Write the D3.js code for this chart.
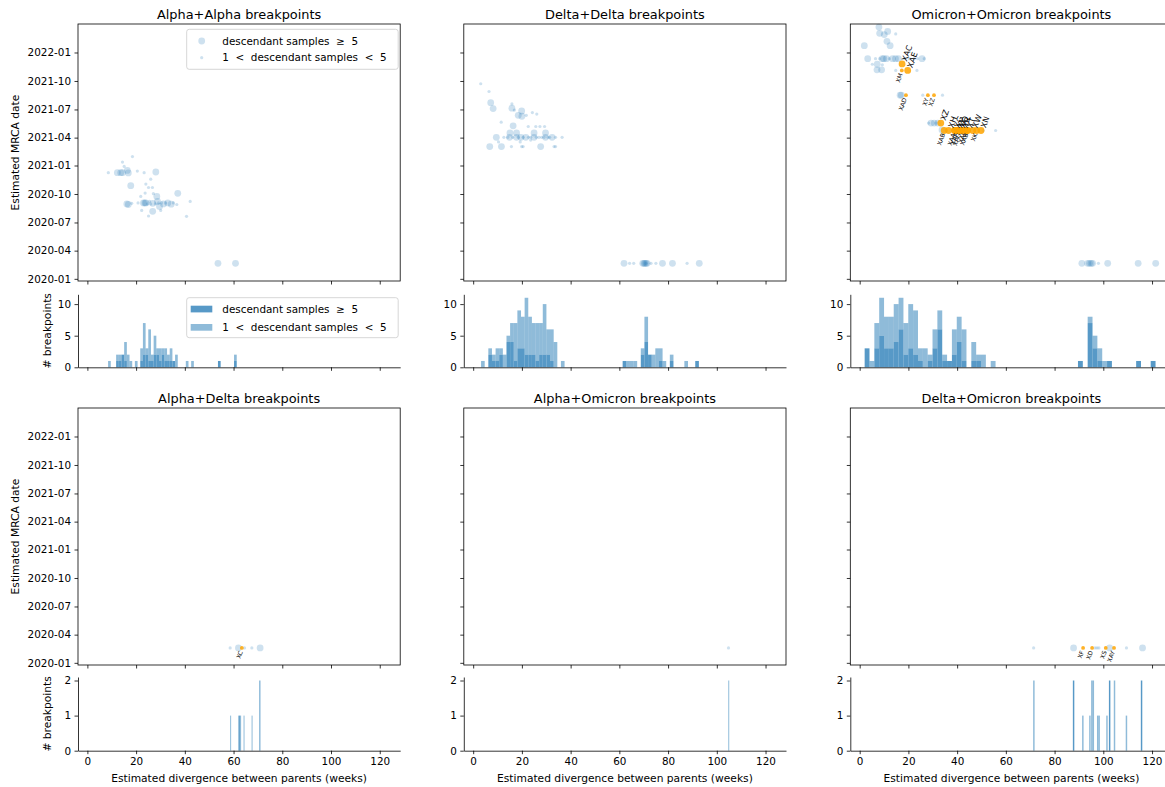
<!DOCTYPE html>
<html>
<head>
<meta charset="utf-8">
<script src="https://cdn.jsdelivr.net/npm/d3@7"></script>
<style>
  body { margin: 0; background: #fff; }
  text { font-family: 'DejaVu Sans', sans-serif; fill: #000; }
  .pre { white-space: pre; }
</style>
</head>
<body>
<svg id="chart" width="1165" height="787"></svg>
<script>
const titles = ['Alpha+Alpha breakpoints', 'Delta+Delta breakpoints', 'Omicron+Omicron breakpoints',
  'Alpha+Delta breakpoints', 'Alpha+Omicron breakpoints', 'Delta+Omicron breakpoints']
const weekTicks = [0, 20, 40, 60, 80, 100, 120]
const weekDomain = [-3.85, 128.4]
const dateTicks = ['2020-01', '2020-04', '2020-07', '2020-10', '2021-01', '2021-04', '2021-07', '2021-10', '2022-01']
const dateDomain = ['2019-12-25', '2022-04-03']
const topCountTicks = [0, 5, 10]
const topCountMax = 11.55
const bottomCountTicks = [0, 1, 2]
const bottomCountMax = 2.1
const legendLabels = ['descendant samples  \u2265  5', '1  <  descendant samples  <  5']
const yLabel = 'Estimated MRCA date'
const countLabel = '# breakpoints'
const xLabel = 'Estimated divergence between parents (weeks)'

// breakpoints: [weeks, MRCA date, 1 when descendant samples >= 5]
const alphaAlphaPoints = [
  [8.6, '2020-12-09', 0], [12.3, '2020-12-09', 1], [13.7, '2020-12-09', 1], [14.4, '2020-12-09', 1],
  [16.4, '2020-12-16', 1], [16.8, '2020-12-08', 1], [14.4, '2021-01-12', 0], [15.1, '2020-12-29', 0],
  [18.5, '2021-01-30', 0], [20.5, '2020-12-14', 0], [23.3, '2020-12-09', 0], [28.1, '2020-12-11', 1],
  [17.8, '2020-10-28', 1], [24.0, '2020-11-02', 0], [26.0, '2020-11-18', 0], [26.7, '2020-10-22', 0],
  [25.1, '2020-10-22', 0], [23.7, '2020-10-04', 0], [27.1, '2020-10-02', 0], [28.5, '2020-09-23', 1],
  [37.1, '2020-10-03', 1], [16.8, '2020-08-28', 1], [16.2, '2020-08-30', 1], [18.2, '2020-09-01', 0],
  [21.9, '2020-09-23', 0], [23.0, '2020-09-02', 1], [24.0, '2020-09-02', 1], [24.7, '2020-08-30', 0],
  [26.0, '2020-08-30', 0], [26.8, '2020-09-01', 1], [27.9, '2020-08-30', 0], [28.8, '2020-09-07', 1],
  [29.6, '2020-08-22', 1], [30.5, '2020-09-02', 0], [31.2, '2020-08-30', 1], [32.2, '2020-09-02', 0],
  [33.0, '2020-09-02', 1], [34.4, '2020-08-29', 1], [35.3, '2020-09-02', 0], [36.7, '2020-08-28', 0],
  [26.8, '2020-08-06', 1], [22.3, '2020-08-09', 0], [25.1, '2020-07-22', 0], [30.1, '2020-08-09', 0],
  [42.2, '2020-09-07', 0], [40.7, '2020-07-21', 0], [53.6, '2020-02-20', 1], [60.8, '2020-02-20', 1],
  [20.8, '2020-09-02', 0], [25.5, '2020-09-07', 0], [23.6, '2020-09-02', 1], [29.2, '2020-09-02', 0]
]
const deltaDeltaPoints = [
  [3.1, '2021-09-22', 0], [6.5, '2021-08-28', 0], [7.2, '2021-07-23', 1], [8.2, '2021-07-04', 1],
  [11.5, '2021-05-21', 0], [15.9, '2021-07-19', 0], [15.9, '2021-07-05', 1], [16.9, '2021-06-29', 0],
  [19.9, '2021-06-26', 1], [18.5, '2021-06-12', 1], [20.0, '2021-06-09', 1], [21.8, '2021-06-12', 0],
  [24.3, '2021-06-21', 0], [26.1, '2021-06-16', 0], [16.4, '2021-05-09', 1], [22.6, '2021-05-07', 0],
  [25.7, '2021-05-07', 0], [27.4, '2021-05-07', 0], [29.3, '2021-05-07', 0],
  [9.5, '2021-04-02', 1], [14.9, '2021-04-02', 1], [17.8, '2021-04-02', 1], [19.6, '2021-04-02', 1],
  [21.6, '2021-04-02', 1], [25.0, '2021-04-02', 1], [29.7, '2021-04-02', 1], [32.4, '2021-04-02', 1],
  [12.6, '2021-04-02', 0], [16.2, '2021-04-02', 0], [23.6, '2021-04-02', 0], [27.0, '2021-04-02', 0],
  [28.1, '2021-04-02', 0], [30.7, '2021-04-02', 0], [33.8, '2021-04-02', 0], [36.5, '2021-04-02', 0],
  [14.2, '2021-04-02', 0], [18.5, '2021-04-02', 0], [20.5, '2021-04-02', 0], [22.7, '2021-04-02', 0],
  [25.9, '2021-04-02', 0], [29.1, '2021-04-02', 0], [31.4, '2021-04-02', 0],
  [15.1, '2021-04-16', 1], [17.8, '2021-04-16', 1], [25.0, '2021-04-16', 1], [29.7, '2021-04-16', 1],
  [19.3, '2021-03-18', 0], [10.4, '2021-03-18', 0], [23.6, '2021-03-24', 0],
  [6.8, '2021-03-03', 1], [11.6, '2021-03-03', 1], [27.7, '2021-03-03', 1], [15.7, '2021-03-03', 0],
  [19.9, '2021-03-03', 0], [20.5, '2021-03-03', 0], [33.2, '2021-03-03', 0], [33.8, '2021-03-03', 0],
  [61.9, '2020-02-20', 1], [64.2, '2020-02-20', 0], [65.9, '2020-02-20', 0], [69.6, '2020-02-20', 1],
  [70.5, '2020-02-20', 1], [71.4, '2020-02-20', 1], [70.9, '2020-02-20', 0], [73.0, '2020-02-20', 0],
  [75.0, '2020-02-20', 0], [77.7, '2020-02-20', 1], [81.8, '2020-02-20', 1], [87.8, '2020-02-20', 0],
  [92.8, '2020-02-20', 1], [70.1, '2020-02-20', 1], [71.0, '2020-02-20', 1]
]
const omicronOmicronPoints = [
  [7.9, '2022-03-24', 1], [8.2, '2022-03-04', 1], [10.1, '2022-02-28', 1], [11.5, '2022-03-10', 1],
  [14.8, '2022-03-02', 0], [1.9, '2022-01-23', 1], [11.2, '2022-02-06', 1], [12.5, '2022-01-23', 1],
  [3.3, '2021-12-12', 1], [6.5, '2021-12-12', 0], [8.2, '2021-12-12', 0], [9.3, '2021-12-12', 1],
  [9.9, '2021-12-12', 1], [11.0, '2021-12-12', 1], [12.2, '2021-12-12', 0], [13.5, '2021-12-12', 1],
  [14.7, '2021-12-12', 1], [15.9, '2021-12-12', 1], [18.4, '2021-12-12', 0], [20.4, '2021-12-12', 0],
  [22.4, '2021-12-12', 0], [23.8, '2021-12-12', 0], [25.6, '2021-12-12', 1], [26.5, '2021-12-12', 0],
  [5.2, '2021-11-24', 0], [7.2, '2021-11-24', 1], [9.3, '2021-11-22', 0], [7.1, '2021-11-06', 1],
  [9.0, '2021-11-06', 1], [14.8, '2021-11-04', 0], [23.5, '2021-11-04', 0],
  [16.6, '2021-08-16', 1], [17.1, '2021-08-16', 1], [25.9, '2021-08-16', 0], [34.0, '2021-08-16', 0],
  [28.3, '2021-05-18', 0], [29.3, '2021-05-18', 1], [30.6, '2021-05-18', 1], [32.0, '2021-05-18', 1],
  [31.3, '2021-05-18', 0], [33.8, '2021-04-26', 1], [35.5, '2021-04-24', 0], [50.7, '2021-04-24', 0],
  [55.8, '2021-04-24', 0],
  [91.2, '2020-02-20', 1], [93.6, '2020-02-20', 1], [94.3, '2020-02-20', 1], [95.0, '2020-02-20', 1],
  [95.6, '2020-02-20', 1], [98.0, '2020-02-20', 0], [101.8, '2020-02-20', 1], [114.3, '2020-02-20', 1],
  [121.5, '2020-02-20', 1]
]
const alphaDeltaPoints = [
  [58.6, '2020-02-18', 0], [62.0, '2020-02-18', 1], [64.5, '2020-02-18', 0], [67.5, '2020-02-18', 0],
  [70.9, '2020-02-18', 1]
]
const alphaOmicronPoints = [[104.8, '2020-02-18', 0]]
const deltaOmicronPoints = [
  [71.4, '2020-02-18', 0], [87.8, '2020-02-18', 1], [96.6, '2020-02-18', 0], [97.4, '2020-02-18', 0],
  [98.2, '2020-02-18', 0], [102.6, '2020-02-18', 1], [109.5, '2020-02-18', 0], [116.1, '2020-02-18', 1]
]

// designated recombinants: [weeks, MRCA date, 1 when samples >= 5, lineage, label above or below]
const omicronOmicronNamed = [
  [17.4, '2021-11-25', 1, 'XAC', 'up'], [17.3, '2021-11-04', 0, 'XM', 'down'],
  [19.7, '2021-11-04', 1, 'XAE', 'up'], [19.0, '2021-08-16', 0, 'XAD', 'down'],
  [28.0, '2021-08-16', 0, 'XY', 'down'], [30.5, '2021-08-16', 0, 'XZ', 'down'],
  [33.3, '2021-05-18', 1, 'XZ', 'up'],
  [34.7, '2021-04-24', 1, 'XAB', 'down'], [36.5, '2021-04-24', 1, 'XH', 'up'],
  [39.0, '2021-04-24', 1, 'XG', 'up'], [39.0, '2021-04-24', 1, 'XAA', 'down'],
  [40.1, '2021-04-24', 1, 'XJ', 'up'], [40.1, '2021-04-24', 1, 'XAF', 'down'],
  [41.2, '2021-04-24', 1, 'XQ', 'up'], [41.2, '2021-04-24', 1, 'XAG', 'down'],
  [42.2, '2021-04-24', 1, 'XR', 'up'], [43.1, '2021-04-24', 1, 'XAJ', 'down'],
  [44.2, '2021-04-24', 1, 'XT', 'up'], [44.2, '2021-04-24', 1, 'XAB', 'down'],
  [46.4, '2021-04-24', 1, 'XW', 'up'], [48.0, '2021-04-24', 1, 'XK', 'down'],
  [49.8, '2021-04-24', 1, 'XN', 'up']
]
const alphaDeltaNamed = [[63.4, '2020-02-18', 0, 'XC', 'down']]
const deltaOmicronNamed = [
  [91.7, '2020-02-18', 0, 'XF', 'down'], [95.4, '2020-02-18', 0, 'XD', 'down'],
  [101.0, '2020-02-18', 0, 'XS', 'down'], [104.4, '2020-02-18', 0, 'XAY', 'down']
]

// histograms of the top row: [first bin edge, bin width], all breakpoints, samples >= 5
const alphaAlphaBins = [8.5, 1.1]
const alphaAlphaAll = [1, 0, 0, 2, 2, 2, 4, 2, 1, 0, 1, 0, 3, 7, 3, 6, 2, 5, 3, 3, 3, 3, 2, 3, 1, 2, 0, 0, 0, 1,
  0, 1, 0, 0, 0, 0, 0, 0, 0, 0, 0, 1, 0, 0, 0, 0, 0, 2]
const alphaAlphaLarge = [0, 0, 0, 1, 1, 2, 1, 0, 0, 0, 0, 0, 1, 2, 2, 1, 1, 2, 2, 1, 2, 1, 1, 1, 1, 0, 0, 0, 0, 0,
  0, 0, 0, 0, 0, 0, 0, 0, 0, 0, 0, 1, 0, 0, 0, 0, 0, 1]
const deltaDeltaBins = [3.24, 1.49]
const deltaDeltaAll = [1, 0, 3, 2, 3, 3, 2, 5, 7, 7, 9, 8, 11, 8, 7, 7, 7, 10, 6, 6, 4, 0, 1, 0, 0, 0, 0, 0, 0, 0,
  0, 0, 0, 0, 0, 0, 0, 0, 0, 1, 1, 1, 1, 0, 3, 8, 2, 2, 3, 3, 1, 0, 2, 0, 0, 0, 1, 0, 0, 1]
const deltaDeltaLarge = [0, 0, 2, 1, 1, 2, 0, 4, 4, 1, 3, 3, 2, 2, 2, 1, 2, 2, 2, 1, 0, 0, 0, 0, 0, 0, 0, 0, 0, 0,
  0, 0, 0, 0, 0, 0, 0, 0, 0, 1, 0, 0, 0, 0, 2, 4, 2, 0, 0, 1, 0, 0, 1, 0, 0, 0, 0, 0, 0, 1]
const omicronOmicronBins = [2.04, 1.99]
const omicronOmicronAll = [3, 1, 7, 11, 8, 8, 10, 11, 7, 10, 9, 3, 3, 2, 6, 9, 2, 1, 6, 8, 6, 0, 4, 2, 2, 0, 1, 0, 0, 0,
  0, 0, 0, 0, 0, 0, 0, 0, 0, 0, 0, 0, 0, 0, 1, 0, 8, 5, 3, 1, 1, 0, 0, 0, 0, 0, 1, 0, 0, 1]
const omicronOmicronLarge = [3, 0, 3, 5, 3, 3, 4, 6, 2, 3, 2, 1, 0, 1, 3, 6, 1, 1, 2, 4, 1, 0, 1, 1, 0, 0, 0, 0, 0, 0,
  0, 0, 0, 0, 0, 0, 0, 0, 0, 0, 0, 0, 0, 0, 1, 0, 7, 3, 1, 0, 1, 0, 0, 0, 0, 0, 1, 0, 0, 1]

// histograms of the bottom row: [bin edge, all breakpoints, samples >= 5]
const alphaDeltaBars = [[58.6, 1, 0], [61.9, 1, 0], [62.3, 1, 1], [62.7, 1, 0], [64.1, 1, 0], [67.4, 1, 0], [70.6, 2, 2]]
const alphaOmicronBars = [[104.7, 2, 0]]
const deltaOmicronBars = [[71.2, 2, 0], [87.5, 2, 2], [91.3, 1, 0], [94.2, 1, 0], [95.0, 2, 0], [95.6, 2, 0],
  [97.4, 1, 0], [98.0, 1, 0], [101.2, 1, 0], [102.3, 2, 2], [104.3, 2, 0], [109.2, 1, 0], [115.4, 2, 2]]
const bottomBinWidths = [0.4, 0.4, 0.6]

const blue = '#1f77b4'
const orange = '#ffa500'
const tickFont = 10.4
const labelFont = 10.7
const titleFont = 12.9
const colLeft = [78, 463.8, 850.3]
const colWidth = 322.2
const scatterTop = [24, 408]
const scatterBottom = [281, 665]
const histTop = [294.3, 677]
const histBottom = [367.3, 750.7]

const svg = d3.select('#chart')
const parseDay = d3.utcParse('%Y-%m-%d')
const parseMonth = d3.utcParse('%Y-%m')

const denseBars = (bins, all, large) => all.map((n, i) => [bins[0] + i * bins[1], n, large[i], bins[1]])
const sparseBars = (bars, w) => bars.map(b => [b[0], b[1], b[2], w])

const panels = [
  { points: alphaAlphaPoints, named: [], bars: denseBars(alphaAlphaBins, alphaAlphaAll, alphaAlphaLarge) },
  { points: deltaDeltaPoints, named: [], bars: denseBars(deltaDeltaBins, deltaDeltaAll, deltaDeltaLarge) },
  { points: omicronOmicronPoints, named: omicronOmicronNamed, bars: denseBars(omicronOmicronBins, omicronOmicronAll, omicronOmicronLarge) },
  { points: alphaDeltaPoints, named: alphaDeltaNamed, bars: sparseBars(alphaDeltaBars, bottomBinWidths[0]) },
  { points: alphaOmicronPoints, named: [], bars: sparseBars(alphaOmicronBars, bottomBinWidths[1]) },
  { points: deltaOmicronPoints, named: deltaOmicronNamed, bars: sparseBars(deltaOmicronBars, bottomBinWidths[2]) }
]

const styleAxis = g => {
  g.attr('font-family', null).attr('font-size', tickFont)
  g.selectAll('line').attr('stroke-width', 0.8)
  g.selectAll('path').attr('stroke-width', 0.8)
  g.selectAll('text').attr('fill', '#000')
}

const drawPanel = (p, i) => {
  const col = i % 3
  const row = Math.floor(i / 3)
  const x = d3.scaleLinear().domain(weekDomain).range([colLeft[col], colLeft[col] + colWidth])
  const y = d3.scaleUtc().domain(dateDomain.map(parseDay)).range([scatterBottom[row], scatterTop[row]])
  const counts = d3.scaleLinear().domain([0, row === 0 ? topCountMax : bottomCountMax]).range([histBottom[row], histTop[row]])

  svg.append('text')
    .attr('x', colLeft[col] + colWidth / 2).attr('y', scatterTop[row] - 5)
    .attr('text-anchor', 'middle').attr('font-size', titleFont)
    .text(titles[i])

  // scatter
  const sc = svg.append('g')
  sc.selectAll('circle.bp').data(p.points).enter().append('circle')
    .attr('class', 'bp')
    .attr('cx', d => x(d[0])).attr('cy', d => y(parseDay(d[1])))
    .attr('r', d => d[2] ? 3.4 : 1.6)
    .attr('fill', blue).attr('fill-opacity', 0.22)
  sc.selectAll('circle.named').data(p.named).enter().append('circle')
    .attr('class', 'named')
    .attr('cx', d => x(d[0])).attr('cy', d => y(parseDay(d[1])))
    .attr('r', d => d[2] ? 3.4 : 1.9)
    .attr('fill', orange).attr('fill-opacity', 0.85)
  sc.selectAll('text').data(p.named).enter().append('text')
    .attr('transform', d => {
      const up = d[4] === 'up'
      return `translate(${x(d[0]) + (up ? 2 : -1)},${y(parseDay(d[1])) + (up ? -3 : 3)}) rotate(-70)`
    })
    .attr('text-anchor', d => d[4] === 'up' ? 'start' : 'end')
    .attr('dy', '0.35em')
    .attr('font-size', d => d[4] === 'up' ? 8 : 6)
    .text(d => d[3])

  svg.append('rect')
    .attr('x', colLeft[col]).attr('y', scatterTop[row])
    .attr('width', colWidth).attr('height', scatterBottom[row] - scatterTop[row])
    .attr('fill', 'none').attr('stroke', '#000').attr('stroke-width', 0.8)

  svg.append('g').attr('transform', `translate(0,${scatterBottom[row]})`)
    .call(d3.axisBottom(x).tickValues(weekTicks).tickSize(3.5).tickSizeOuter(0).tickFormat(''))
    .call(g => g.select('.domain').remove())
    .call(styleAxis)
  svg.append('g').attr('transform', `translate(${colLeft[col]},0)`)
    .call(d3.axisLeft(y).tickValues(dateTicks.map(parseMonth)).tickSize(3.5).tickPadding(3.5)
      .tickFormat(col === 0 ? d3.utcFormat('%Y-%m') : ''))
    .call(g => g.select('.domain').remove())
    .call(styleAxis)

  // histogram, breakpoints with few descendants stacked on the others
  const hg = svg.append('g')
  const shown = p.bars.filter(b => b[1] > 0)
  hg.selectAll('rect.large').data(shown.filter(b => b[2] > 0)).enter().append('rect')
    .attr('class', 'large')
    .attr('x', b => x(b[0])).attr('width', b => x(b[0] + b[3]) - x(b[0]))
    .attr('y', b => counts(b[2])).attr('height', b => counts(0) - counts(b[2]))
    .attr('fill', blue).attr('fill-opacity', 0.75)
  hg.selectAll('rect.small').data(shown.filter(b => b[1] > b[2])).enter().append('rect')
    .attr('class', 'small')
    .attr('x', b => x(b[0])).attr('width', b => x(b[0] + b[3]) - x(b[0]))
    .attr('y', b => counts(b[1])).attr('height', b => counts(b[2]) - counts(b[1]))
    .attr('fill', blue).attr('fill-opacity', 0.5)

  svg.append('g').attr('transform', `translate(0,${histBottom[row]})`)
    .call(d3.axisBottom(x).tickValues(weekTicks).tickSize(3.5).tickPadding(3.5).tickSizeOuter(0)
      .tickFormat(row === 1 ? d3.format('d') : ''))
    .call(styleAxis)
  svg.append('g').attr('transform', `translate(${colLeft[col]},0)`)
    .call(d3.axisLeft(counts).tickValues(row === 0 ? topCountTicks : bottomCountTicks)
      .tickSize(3.5).tickPadding(3.5).tickSizeOuter(0).tickFormat(d3.format('d')))
    .call(styleAxis)

  if (col === 0) {
    svg.append('text')
      .attr('transform', `translate(15,${(scatterTop[row] + scatterBottom[row]) / 2}) rotate(-90)`)
      .attr('text-anchor', 'middle').attr('dy', '0.35em').attr('font-size', labelFont)
      .text(yLabel)
    svg.append('text')
      .attr('transform', `translate(47,${(histTop[row] + histBottom[row]) / 2}) rotate(-90)`)
      .attr('text-anchor', 'middle').attr('dy', '0.35em').attr('font-size', labelFont)
      .text(countLabel)
  }
  if (row === 1) {
    svg.append('text')
      .attr('x', colLeft[col] + colWidth / 2).attr('y', 782)
      .attr('text-anchor', 'middle').attr('font-size', labelFont)
      .text(xLabel)
  }
}

panels.forEach(drawPanel)

// legends
const legendBox = (top) => svg.append('rect')
  .attr('x', 186.7).attr('y', top).attr('width', 211.5).attr('height', 40).attr('rx', 2.5)
  .attr('fill', '#fff').attr('fill-opacity', 0.8).attr('stroke', '#cccccc').attr('stroke-width', 0.8)

legendBox(29.3)
legendLabels.forEach((t, i) => {
  svg.append('circle').attr('cx', 201.7).attr('cy', 41 + i * 16.7).attr('r', i === 0 ? 3.4 : 1.6)
    .attr('fill', blue).attr('fill-opacity', 0.22)
  svg.append('text').attr('class', 'pre').attr('x', 222.3).attr('y', 41 + i * 16.7).attr('dy', '0.35em')
    .attr('font-size', tickFont).text(t)
})

legendBox(297.7)
legendLabels.forEach((t, i) => {
  svg.append('rect').attr('x', 190.7).attr('y', 305.7 + i * 18.3).attr('width', 21.6).attr('height', 6.7)
    .attr('fill', blue).attr('fill-opacity', i === 0 ? 0.75 : 0.5)
  svg.append('text').attr('class', 'pre').attr('x', 222.3).attr('y', 309 + i * 18.3).attr('dy', '0.35em')
    .attr('font-size', tickFont).text(t)
})
</script>
</body>
</html>
